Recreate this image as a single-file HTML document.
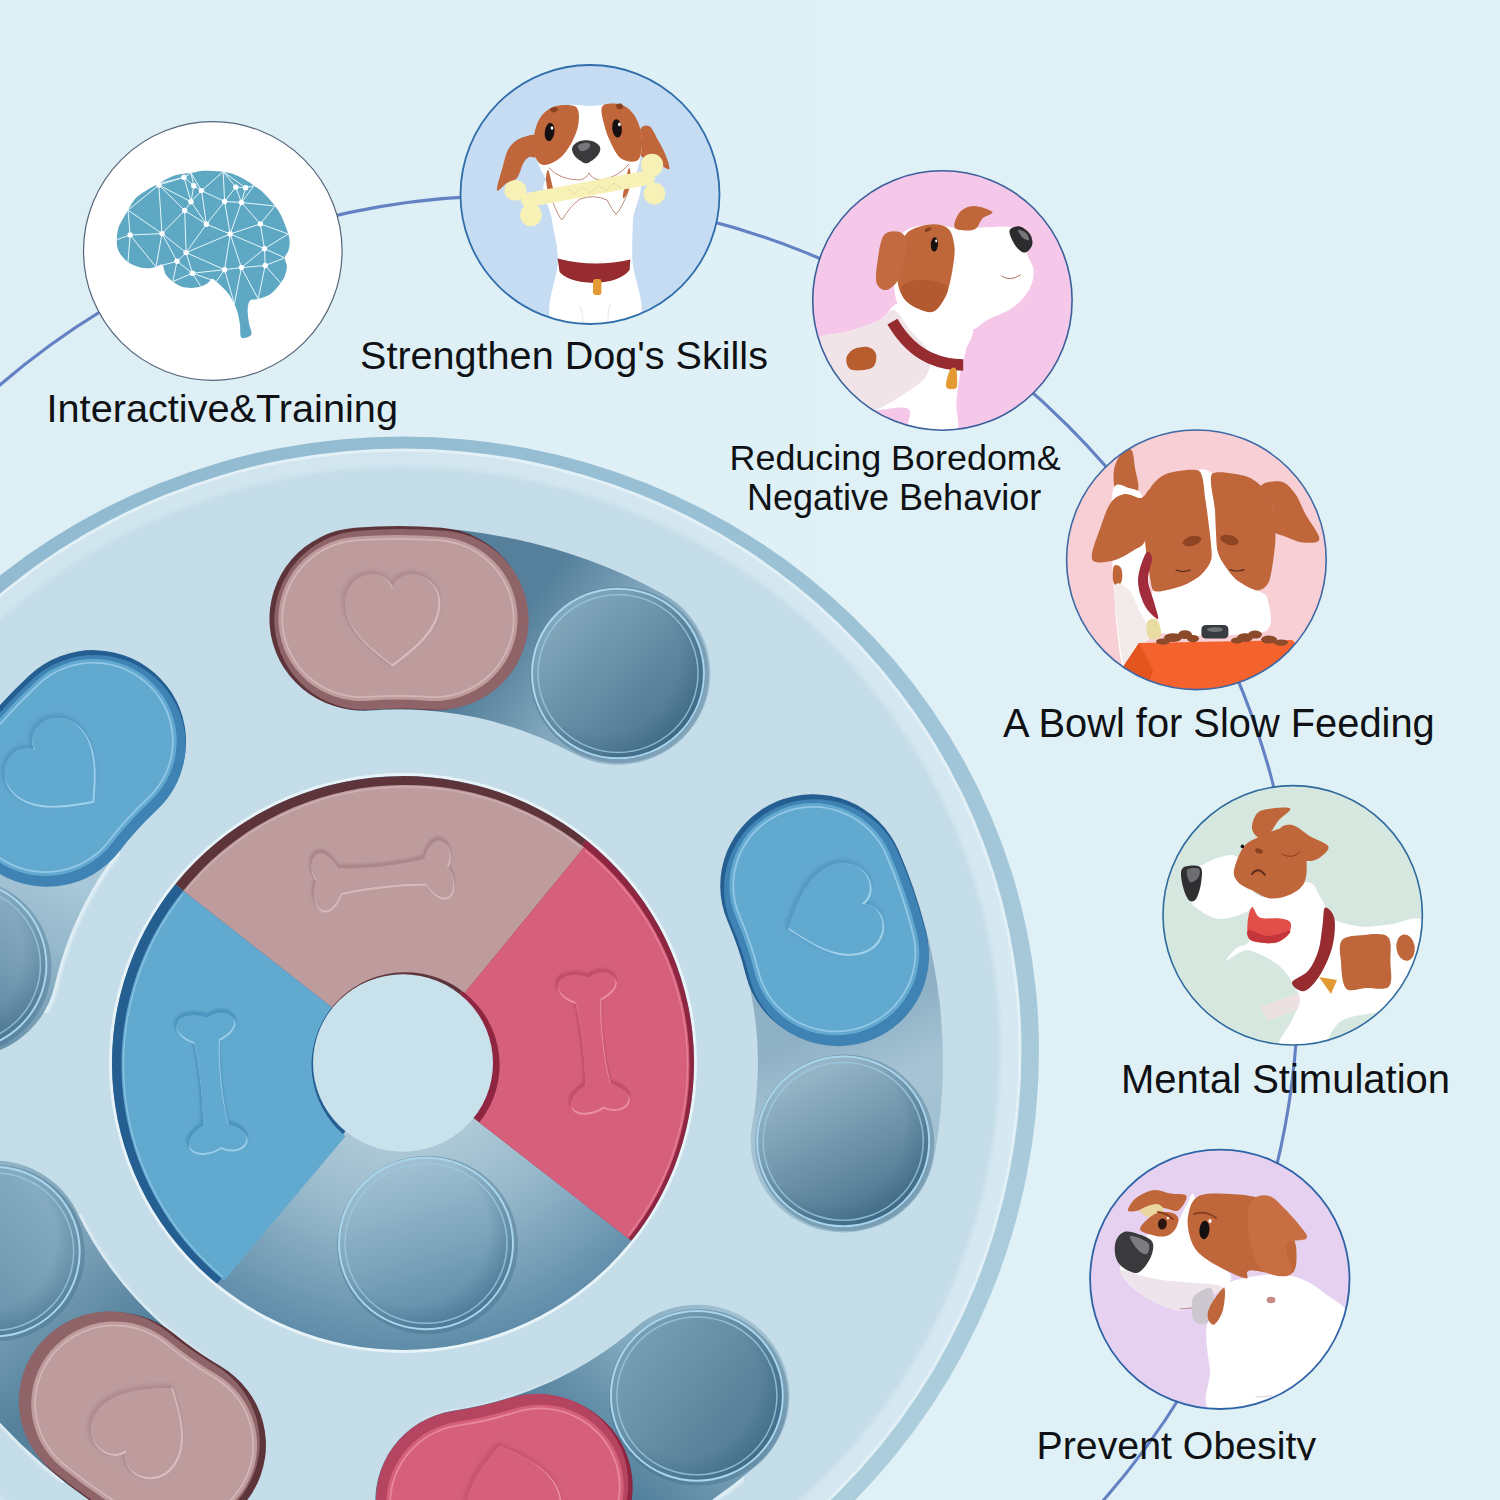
<!DOCTYPE html>
<html lang="en"><head><meta charset="utf-8"><title>Dog puzzle feeder features</title>
<style>html,body{margin:0;padding:0;background:#dff1f6}#stage{position:relative;width:1500px;height:1500px;overflow:hidden}svg{display:block}text{font-family:"Liberation Sans",Arial,Helvetica,sans-serif;fill:#0f1114}</style></head><body><div id="stage">
<svg width="1500" height="1500" viewBox="0 0 1500 1500">
<defs>
<linearGradient id="bgG" x1="0" y1="0" x2="1" y2="0"><stop offset="0" stop-color="#ddeff5"/><stop offset=".6" stop-color="#dff1f6"/><stop offset="1" stop-color="#e0f1f6"/></linearGradient>
<filter id="blur2" x="-5%" y="-5%" width="110%" height="110%"><feGaussianBlur stdDeviation="2"/></filter>
<filter id="blur3" x="-5%" y="-5%" width="110%" height="110%"><feGaussianBlur stdDeviation="3"/></filter>
<filter id="blur1" x="-20%" y="-20%" width="140%" height="140%"><feGaussianBlur stdDeviation="1.2"/></filter>
<linearGradient id="rimDark" x1="0.2" y1="0" x2="0.8" y2="1"><stop offset="0" stop-color="#8fb9d0"/><stop offset=".5" stop-color="#a1c5d8"/><stop offset="1" stop-color="#afcfdd"/></linearGradient>
<linearGradient id="rimLight" x1="0" y1="0" x2="1" y2="0"><stop offset="0" stop-color="#cfe4ee"/><stop offset="1" stop-color="#d6e8f1"/></linearGradient>
<linearGradient id="trough0" gradientUnits="userSpaceOnUse" x1="528" y1="600" x2="700" y2="720"><stop offset="0" stop-color="#557f9b"/><stop offset=".4" stop-color="#7fa5bb"/><stop offset="1" stop-color="#a9c8d8"/></linearGradient>
<linearGradient id="trough1" gradientUnits="userSpaceOnUse" x1="800" y1="1040" x2="880" y2="1230"><stop offset="0" stop-color="#8fb1c5"/><stop offset=".35" stop-color="#a6c4d4"/><stop offset="1" stop-color="#9bbccd"/></linearGradient>
<linearGradient id="trough2" gradientUnits="userSpaceOnUse" x1="620" y1="1490" x2="760" y2="1330"><stop offset="0" stop-color="#52809c"/><stop offset=".5" stop-color="#7fa6bb"/><stop offset="1" stop-color="#a3c3d3"/></linearGradient>
<linearGradient id="trough3" gradientUnits="userSpaceOnUse" x1="130" y1="1340" x2="0" y2="1180"><stop offset="0" stop-color="#55819c"/><stop offset=".5" stop-color="#7aa0b7"/><stop offset="1" stop-color="#8fb2c5"/></linearGradient>
<linearGradient id="trough4" gradientUnits="userSpaceOnUse" x1="70" y1="880" x2="0" y2="1040"><stop offset="0" stop-color="#a8c7d8"/><stop offset=".4" stop-color="#94b7ca"/><stop offset="1" stop-color="#6a93ac"/></linearGradient>
<linearGradient id="cupG0" x1="0.1" y1="0.1" x2="0.9" y2="0.95"><stop offset="0" stop-color="#86abbf"/><stop offset="1" stop-color="#446e8a"/></linearGradient>
<linearGradient id="cupG1" x1="0.25" y1="0.0" x2="0.75" y2="1.0"><stop offset="0" stop-color="#9ebdce"/><stop offset="1" stop-color="#456f8a"/></linearGradient>
<linearGradient id="cupG2" x1="0.0" y1="0.1" x2="1.0" y2="0.9"><stop offset="0" stop-color="#7ca3b8"/><stop offset="1" stop-color="#4a748e"/></linearGradient>
<linearGradient id="cupG3" x1="1.0" y1="0.0" x2="0.0" y2="1.0"><stop offset="0" stop-color="#8fb4c8"/><stop offset="1" stop-color="#5a86a1"/></linearGradient>
<linearGradient id="cupG4" x1="1.0" y1="0.0" x2="0.1" y2="1.0"><stop offset="0" stop-color="#98bace"/><stop offset="1" stop-color="#3f6c8a"/></linearGradient>
<radialGradient id="cupShade" cx=".42" cy=".42" r=".62"><stop offset=".7" stop-color="#2f5a7a" stop-opacity="0"/><stop offset="1" stop-color="#2f5a7a" stop-opacity=".45"/></radialGradient>
<linearGradient id="cupC" x1=".3" y1="0" x2=".6" y2="1"><stop offset="0" stop-color="#a5c4d5"/><stop offset="1" stop-color="#5b8aa7"/></linearGradient>
<radialGradient id="ctrTrough" gradientUnits="userSpaceOnUse" cx="403.0" cy="1023.0" r="330"><stop offset=".3" stop-color="#b4cedb"/><stop offset=".6" stop-color="#98b9cb"/><stop offset="1" stop-color="#5f8ca9"/></radialGradient>
<clipPath id="cc0"><circle cx="212.8" cy="251.0" r="129.3"/></clipPath>
<clipPath id="cc1"><circle cx="590.0" cy="194.5" r="129.5"/></clipPath>
<clipPath id="cc2"><circle cx="942.4" cy="300.5" r="129.7"/></clipPath>
<clipPath id="cc3"><circle cx="1196.4" cy="559.8" r="129.8"/></clipPath>
<clipPath id="cc4"><circle cx="1292.7" cy="915.3" r="129.7"/></clipPath>
<clipPath id="cc5"><circle cx="1219.8" cy="1279.3" r="129.7"/></clipPath>
<clipPath id="obClip"><rect x="1000" y="1400" width="400" height="60.3"/></clipPath>
</defs>
<rect width="1500" height="1500" fill="url(#bgG)"/>
<circle cx="511.84" cy="982.06" r="786.46" fill="none" stroke="#6481c4" stroke-width="3.1"/>
<path d="M-233.0,1050.0A636,613.5 0 0 1 1039.0,1050.0A636,640 0 0 1 -233.0,1050.0Z" fill="url(#rimDark)"/>
<path d="M-215.5,1050.0A618.5,601.5 0 0 1 1021.5,1050.0A618.5,623 0 0 1 -215.5,1050.0Z" fill="#e3f1f7"/>
<path d="M-212.5,1050.0A615.5,598.5 0 0 1 1018.5,1050.0A615.5,620 0 0 1 -212.5,1050.0Z" fill="url(#rimLight)"/>
<path d="M-194.0,1050.0A597,583 0 0 1 1000.0,1050.0A597,602 0 0 1 -194.0,1050.0Z" fill="#c4dde8" filter="url(#blur2)"/>
<g transform="translate(0,14.88) scale(1,0.986)">
<path d="M364.4,613.4A450.0,450.0 0 0 1 618.0,668.0" fill="none" stroke="#dfedf4" stroke-width="190.0" stroke-linecap="round" transform="translate(1,1.5)" filter="url(#blur1)"/>
<path d="M364.4,613.4A450.0,450.0 0 0 1 618.0,668.0" fill="none" stroke="url(#trough0)" stroke-width="185.0" stroke-linecap="round"/>
<path d="M814.4,885.4A450.0,450.0 0 0 1 843.2,1142.5" fill="none" stroke="#dfedf4" stroke-width="190.0" stroke-linecap="round" transform="translate(1,1.5)" filter="url(#blur1)"/>
<path d="M814.4,885.4A450.0,450.0 0 0 1 843.2,1142.5" fill="none" stroke="url(#trough1)" stroke-width="185.0" stroke-linecap="round"/>
<path d="M696.9,1400.6A450.0,450.0 0 0 1 467.8,1506.9" fill="none" stroke="#dfedf4" stroke-width="190.0" stroke-linecap="round" transform="translate(1,1.5)" filter="url(#blur1)"/>
<path d="M696.9,1400.6A450.0,450.0 0 0 1 467.8,1506.9" fill="none" stroke="url(#trough2)" stroke-width="185.0" stroke-linecap="round"/>
<path d="M170.1,1448.5A450.0,450.0 0 0 1 -6.3,1254.3" fill="none" stroke="#dfedf4" stroke-width="190.0" stroke-linecap="round" transform="translate(1,1.5)" filter="url(#blur1)"/>
<path d="M170.1,1448.5A450.0,450.0 0 0 1 -6.3,1254.3" fill="none" stroke="url(#trough3)" stroke-width="185.0" stroke-linecap="round"/>
<path d="M-35.7,964.5A447.0,447.0 0 0 1 92.8,737.8" fill="none" stroke="#dfedf4" stroke-width="190.0" stroke-linecap="round" transform="translate(1,1.5)" filter="url(#blur1)"/>
<path d="M-35.7,964.5A447.0,447.0 0 0 1 92.8,737.8" fill="none" stroke="url(#trough4)" stroke-width="185.0" stroke-linecap="round"/>
</g>
<g transform="translate(0,14.88) scale(1,0.986)">
<circle cx="618.0" cy="668.0" r="89.5" fill="#3d6886" opacity=".35" transform="translate(1.5,1.5)"/><circle cx="618.0" cy="668.0" r="87" fill="url(#cupG0)"/><circle cx="618.0" cy="668.0" r="87" fill="url(#cupShade)"/><circle cx="618.0" cy="668.0" r="86" fill="none" stroke="#a9d6ec" stroke-width="2"/><circle cx="618.0" cy="668.0" r="80" fill="none" stroke="#9cc9e0" stroke-width="1.5" opacity=".8"/>
<circle cx="843.2" cy="1142.5" r="89.5" fill="#3d6886" opacity=".35" transform="translate(1.5,1.5)"/><circle cx="843.2" cy="1142.5" r="87" fill="url(#cupG1)"/><circle cx="843.2" cy="1142.5" r="87" fill="url(#cupShade)"/><circle cx="843.2" cy="1142.5" r="86" fill="none" stroke="#a9d6ec" stroke-width="2"/><circle cx="843.2" cy="1142.5" r="80" fill="none" stroke="#9cc9e0" stroke-width="1.5" opacity=".8"/>
<circle cx="696.9" cy="1400.6" r="89.5" fill="#3d6886" opacity=".35" transform="translate(1.5,1.5)"/><circle cx="696.9" cy="1400.6" r="87" fill="url(#cupG2)"/><circle cx="696.9" cy="1400.6" r="87" fill="url(#cupShade)"/><circle cx="696.9" cy="1400.6" r="86" fill="none" stroke="#a9d6ec" stroke-width="2"/><circle cx="696.9" cy="1400.6" r="80" fill="none" stroke="#9cc9e0" stroke-width="1.5" opacity=".8"/>
<circle cx="-6.3" cy="1254.3" r="89.5" fill="#3d6886" opacity=".35" transform="translate(1.5,1.5)"/><circle cx="-6.3" cy="1254.3" r="87" fill="url(#cupG3)"/><circle cx="-6.3" cy="1254.3" r="87" fill="url(#cupShade)"/><circle cx="-6.3" cy="1254.3" r="86" fill="none" stroke="#a9d6ec" stroke-width="2"/><circle cx="-6.3" cy="1254.3" r="80" fill="none" stroke="#9cc9e0" stroke-width="1.5" opacity=".8"/>
<circle cx="-39.6" cy="963.6" r="89.5" fill="#3d6886" opacity=".35" transform="translate(1.5,1.5)"/><circle cx="-39.6" cy="963.6" r="87" fill="url(#cupG4)"/><circle cx="-39.6" cy="963.6" r="87" fill="url(#cupShade)"/><circle cx="-39.6" cy="963.6" r="86" fill="none" stroke="#a9d6ec" stroke-width="2"/><circle cx="-39.6" cy="963.6" r="80" fill="none" stroke="#9cc9e0" stroke-width="1.5" opacity=".8"/>
<path d="M364.4,613.4A450.0,450.0 0 0 1 436.6,613.4" fill="none" stroke="#5e343b" stroke-width="185.5" stroke-linecap="round" transform="translate(-2.2,-0.9)"/>
<path d="M364.4,613.4A450.0,450.0 0 0 1 436.6,613.4" fill="none" stroke="#8f6468" stroke-width="182.0" stroke-linecap="round" transform="translate(1.0,0.4)"/>
<path d="M364.4,613.4A450.0,450.0 0 0 1 436.6,613.4" fill="none" stroke="#be9c9e" stroke-width="167.0" stroke-linecap="round" transform="translate(-2.5,-1)"/>
<path d="M364.4,613.4A450.0,450.0 0 0 1 436.6,613.4" fill="none" stroke="#d9bcbc" stroke-width="161.0" stroke-linecap="round" transform="translate(-2.5,-1)" opacity=".8"/>
<path d="M364.4,613.4A450.0,450.0 0 0 1 436.6,613.4" fill="none" stroke="#be9c9e" stroke-width="157.5" stroke-linecap="round" transform="translate(-2.5,-1)"/>
<g transform="translate(392.0,614.0)"><g transform="translate(-1.2,-1.6) rotate(360.0) scale(2.0)"><path d="M0,22 C-6,17 -23,6 -23,-9 C-23,-19 -15,-23 -10,-23 C-5,-23 -1,-20 0,-15 C1,-20 5,-23 10,-23 C15,-23 23,-19 23,-9 C23,6 6,17 0,22Z" fill="none" stroke="#a98587" stroke-width="2.4" stroke-linejoin="round" filter="url(#blur1)"/></g><g transform="translate(0.9,1.2) rotate(360.0) scale(2.0)"><path d="M0,22 C-6,17 -23,6 -23,-9 C-23,-19 -15,-23 -10,-23 C-5,-23 -1,-20 0,-15 C1,-20 5,-23 10,-23 C15,-23 23,-19 23,-9 C23,6 6,17 0,22Z" fill="none" stroke="#d9bcbc" stroke-width="1.5" stroke-linejoin="round"/></g><g transform="rotate(360.0) scale(2.0)"><path d="M0,22 C-6,17 -23,6 -23,-9 C-23,-19 -15,-23 -10,-23 C-5,-23 -1,-20 0,-15 C1,-20 5,-23 10,-23 C15,-23 23,-19 23,-9 C23,6 6,17 0,22Z" fill="#be9c9e" stroke="#be9c9e" stroke-width=".6" stroke-linejoin="round"/></g></g>
<path d="M814.4,885.4A450.0,450.0 0 0 1 837.3,953.9" fill="none" stroke="#255f92" stroke-width="185.5" stroke-linecap="round" transform="translate(-1.4,-2.2)"/>
<path d="M814.4,885.4A450.0,450.0 0 0 1 837.3,953.9" fill="none" stroke="#3f82b4" stroke-width="182.0" stroke-linecap="round" transform="translate(0.6,1.0)"/>
<path d="M814.4,885.4A450.0,450.0 0 0 1 837.3,953.9" fill="none" stroke="#62a9d0" stroke-width="167.0" stroke-linecap="round" transform="translate(-1.5,-2.5)"/>
<path d="M814.4,885.4A450.0,450.0 0 0 1 837.3,953.9" fill="none" stroke="#9fd0ea" stroke-width="161.0" stroke-linecap="round" transform="translate(-1.5,-2.5)" opacity=".8"/>
<path d="M814.4,885.4A450.0,450.0 0 0 1 837.3,953.9" fill="none" stroke="#62a9d0" stroke-width="157.5" stroke-linecap="round" transform="translate(-1.5,-2.5)"/>
<g transform="translate(830.7,911.7)"><g transform="translate(-1.2,-1.6) rotate(431.5) scale(2.0)"><path d="M0,22 C-6,17 -23,6 -23,-9 C-23,-19 -15,-23 -10,-23 C-5,-23 -1,-20 0,-15 C1,-20 5,-23 10,-23 C15,-23 23,-19 23,-9 C23,6 6,17 0,22Z" fill="none" stroke="#4b93bf" stroke-width="2.4" stroke-linejoin="round" filter="url(#blur1)"/></g><g transform="translate(0.9,1.2) rotate(431.5) scale(2.0)"><path d="M0,22 C-6,17 -23,6 -23,-9 C-23,-19 -15,-23 -10,-23 C-5,-23 -1,-20 0,-15 C1,-20 5,-23 10,-23 C15,-23 23,-19 23,-9 C23,6 6,17 0,22Z" fill="none" stroke="#9fd0ea" stroke-width="1.5" stroke-linejoin="round"/></g><g transform="rotate(431.5) scale(2.0)"><path d="M0,22 C-6,17 -23,6 -23,-9 C-23,-19 -15,-23 -10,-23 C-5,-23 -1,-20 0,-15 C1,-20 5,-23 10,-23 C15,-23 23,-19 23,-9 C23,6 6,17 0,22Z" fill="#62a9d0" stroke="#62a9d0" stroke-width=".6" stroke-linejoin="round"/></g></g>
<path d="M538.1,1490.5A450.0,450.0 0 0 1 467.8,1506.9" fill="none" stroke="#8e2541" stroke-width="185.5" stroke-linecap="round" transform="translate(1.8,2.2)"/>
<path d="M538.1,1490.5A450.0,450.0 0 0 1 467.8,1506.9" fill="none" stroke="#b54461" stroke-width="182.0" stroke-linecap="round" transform="translate(-0.8,-1.0)"/>
<path d="M538.1,1490.5A450.0,450.0 0 0 1 467.8,1506.9" fill="none" stroke="#d6607c" stroke-width="167.0" stroke-linecap="round" transform="translate(2,2.5)"/>
<path d="M538.1,1490.5A450.0,450.0 0 0 1 467.8,1506.9" fill="none" stroke="#ee93a6" stroke-width="161.0" stroke-linecap="round" transform="translate(2,2.5)" opacity=".8"/>
<path d="M538.1,1490.5A450.0,450.0 0 0 1 467.8,1506.9" fill="none" stroke="#d6607c" stroke-width="157.5" stroke-linecap="round" transform="translate(2,2.5)"/>
<g transform="translate(509.3,1494.6)"><g transform="translate(-1.2,-1.6) rotate(166.8) scale(2.0)"><path d="M0,22 C-6,17 -23,6 -23,-9 C-23,-19 -15,-23 -10,-23 C-5,-23 -1,-20 0,-15 C1,-20 5,-23 10,-23 C15,-23 23,-19 23,-9 C23,6 6,17 0,22Z" fill="none" stroke="#c04d6a" stroke-width="2.4" stroke-linejoin="round" filter="url(#blur1)"/></g><g transform="translate(0.9,1.2) rotate(166.8) scale(2.0)"><path d="M0,22 C-6,17 -23,6 -23,-9 C-23,-19 -15,-23 -10,-23 C-5,-23 -1,-20 0,-15 C1,-20 5,-23 10,-23 C15,-23 23,-19 23,-9 C23,6 6,17 0,22Z" fill="none" stroke="#ee93a6" stroke-width="1.5" stroke-linejoin="round"/></g><g transform="rotate(166.8) scale(2.0)"><path d="M0,22 C-6,17 -23,6 -23,-9 C-23,-19 -15,-23 -10,-23 C-5,-23 -1,-20 0,-15 C1,-20 5,-23 10,-23 C15,-23 23,-19 23,-9 C23,6 6,17 0,22Z" fill="#d6607c" stroke="#d6607c" stroke-width=".6" stroke-linejoin="round"/></g></g>
<path d="M170.1,1448.5A450.0,450.0 0 0 1 111.2,1406.7" fill="none" stroke="#5e343b" stroke-width="185.5" stroke-linecap="round" transform="translate(3.1,1.8)"/>
<path d="M170.1,1448.5A450.0,450.0 0 0 1 111.2,1406.7" fill="none" stroke="#8f6468" stroke-width="182.0" stroke-linecap="round" transform="translate(-1.4,-0.8)"/>
<path d="M170.1,1448.5A450.0,450.0 0 0 1 111.2,1406.7" fill="none" stroke="#be9c9e" stroke-width="167.0" stroke-linecap="round" transform="translate(3.5,2)"/>
<path d="M170.1,1448.5A450.0,450.0 0 0 1 111.2,1406.7" fill="none" stroke="#d9bcbc" stroke-width="161.0" stroke-linecap="round" transform="translate(3.5,2)" opacity=".8"/>
<path d="M170.1,1448.5A450.0,450.0 0 0 1 111.2,1406.7" fill="none" stroke="#be9c9e" stroke-width="157.5" stroke-linecap="round" transform="translate(3.5,2)"/>
<g transform="translate(145.3,1428.8)"><g transform="translate(-1.2,-1.6) rotate(215.4) scale(2.0)"><path d="M0,22 C-6,17 -23,6 -23,-9 C-23,-19 -15,-23 -10,-23 C-5,-23 -1,-20 0,-15 C1,-20 5,-23 10,-23 C15,-23 23,-19 23,-9 C23,6 6,17 0,22Z" fill="none" stroke="#a98587" stroke-width="2.4" stroke-linejoin="round" filter="url(#blur1)"/></g><g transform="translate(0.9,1.2) rotate(215.4) scale(2.0)"><path d="M0,22 C-6,17 -23,6 -23,-9 C-23,-19 -15,-23 -10,-23 C-5,-23 -1,-20 0,-15 C1,-20 5,-23 10,-23 C15,-23 23,-19 23,-9 C23,6 6,17 0,22Z" fill="none" stroke="#d9bcbc" stroke-width="1.5" stroke-linejoin="round"/></g><g transform="rotate(215.4) scale(2.0)"><path d="M0,22 C-6,17 -23,6 -23,-9 C-23,-19 -15,-23 -10,-23 C-5,-23 -1,-20 0,-15 C1,-20 5,-23 10,-23 C15,-23 23,-19 23,-9 C23,6 6,17 0,22Z" fill="#be9c9e" stroke="#be9c9e" stroke-width=".6" stroke-linejoin="round"/></g></g>
<path d="M46.5,792.3A445.0,445.0 0 0 1 94.2,739.2" fill="none" stroke="#255f92" stroke-width="185.5" stroke-linecap="round" transform="translate(-0.9,-2.2)"/>
<path d="M46.5,792.3A445.0,445.0 0 0 1 94.2,739.2" fill="none" stroke="#3f82b4" stroke-width="182.0" stroke-linecap="round" transform="translate(0.4,1.0)"/>
<path d="M46.5,792.3A445.0,445.0 0 0 1 94.2,739.2" fill="none" stroke="#62a9d0" stroke-width="167.0" stroke-linecap="round" transform="translate(-1,-2.5)"/>
<path d="M46.5,792.3A445.0,445.0 0 0 1 94.2,739.2" fill="none" stroke="#9fd0ea" stroke-width="161.0" stroke-linecap="round" transform="translate(-1,-2.5)" opacity=".8"/>
<path d="M46.5,792.3A445.0,445.0 0 0 1 94.2,739.2" fill="none" stroke="#62a9d0" stroke-width="157.5" stroke-linecap="round" transform="translate(-1,-2.5)"/>
<g transform="translate(59.3,767.3)"><g transform="translate(-1.2,-1.6) rotate(311.9) scale(2.0)"><path d="M0,22 C-6,17 -23,6 -23,-9 C-23,-19 -15,-23 -10,-23 C-5,-23 -1,-20 0,-15 C1,-20 5,-23 10,-23 C15,-23 23,-19 23,-9 C23,6 6,17 0,22Z" fill="none" stroke="#4b93bf" stroke-width="2.4" stroke-linejoin="round" filter="url(#blur1)"/></g><g transform="translate(0.9,1.2) rotate(311.9) scale(2.0)"><path d="M0,22 C-6,17 -23,6 -23,-9 C-23,-19 -15,-23 -10,-23 C-5,-23 -1,-20 0,-15 C1,-20 5,-23 10,-23 C15,-23 23,-19 23,-9 C23,6 6,17 0,22Z" fill="none" stroke="#9fd0ea" stroke-width="1.5" stroke-linejoin="round"/></g><g transform="rotate(311.9) scale(2.0)"><path d="M0,22 C-6,17 -23,6 -23,-9 C-23,-19 -15,-23 -10,-23 C-5,-23 -1,-20 0,-15 C1,-20 5,-23 10,-23 C15,-23 23,-19 23,-9 C23,6 6,17 0,22Z" fill="#62a9d0" stroke="#62a9d0" stroke-width=".6" stroke-linejoin="round"/></g></g>
<circle cx="403.0" cy="1063.0" r="294.0" fill="#e8f3f8"/>
<circle cx="403.0" cy="1063.0" r="291.0" fill="url(#ctrTrough)"/>
<circle cx="426.0" cy="1246.0" r="90.5" fill="#3d6886" opacity=".35" transform="translate(1.5,1.5)"/><circle cx="426.0" cy="1246.0" r="88" fill="url(#cupC)"/><circle cx="426.0" cy="1246.0" r="88" fill="url(#cupShade)"/><circle cx="426.0" cy="1246.0" r="87" fill="none" stroke="#a9d6ec" stroke-width="2"/><circle cx="426.0" cy="1246.0" r="81" fill="none" stroke="#9cc9e0" stroke-width="1.5" opacity=".8"/>
<path d="M217.1,1286.9A291.0,291.0 0 0 1 175.3,881.8L334.9,1008.8A87.0,87.0 0 0 0 347.4,1129.9Z" fill="#255f92"/>
<path d="M175.3,881.8A291.0,291.0 0 0 1 586.1,836.9L457.8,995.4A87.0,87.0 0 0 0 334.9,1008.8Z" fill="#5e343b"/>
<path d="M586.1,836.9A291.0,291.0 0 0 1 631.4,1243.4L471.3,1116.9A87.0,87.0 0 0 0 457.8,995.4Z" fill="#8e2541"/>
<path d="M221.6,1281.5A284.0,284.0 0 0 1 180.7,886.2L329.4,1004.5A94.0,94.0 0 0 0 343.0,1135.3Z" fill="#62a9d0" transform="translate(2.5,2)"/>
<path d="M220.6,1278.1A282.0,282.0 0 0 1 180.5,889.8" fill="none" stroke="#9fd0ea" stroke-width="1.2" opacity=".7" transform="translate(2.5,2)"/>
<path d="M180.7,886.2A284.0,284.0 0 0 1 581.7,842.3L462.2,989.9A94.0,94.0 0 0 0 329.4,1004.5Z" fill="#be9c9e" transform="translate(2.5,2)"/>
<path d="M184.2,885.1A282.0,282.0 0 0 1 578.2,842.0" fill="none" stroke="#d9bcbc" stroke-width="1.2" opacity=".7" transform="translate(2.5,2)"/>
<path d="M581.7,842.3A284.0,284.0 0 0 1 625.9,1239.0L476.8,1121.3A94.0,94.0 0 0 0 462.2,989.9Z" fill="#d6607c" transform="translate(2.5,2)"/>
<path d="M582.8,845.7A282.0,282.0 0 0 1 626.1,1235.5" fill="none" stroke="#ee93a6" stroke-width="1.2" opacity=".7" transform="translate(2.5,2)"/>
<g transform="translate(212.0,1082.7)"><g transform="translate(-0.5,-2.2) rotate(84.10000000000002)"><path d="M-44,-11 C-48,-22 -56,-31 -63,-27 C-71,-22 -70,-9 -65,-2 C-70,6 -72,22 -64,28 C-56,32 -48,23 -43,13 C-20,10 20,10 43,13 C48,23 56,32 64,28 C72,22 70,6 65,-2 C70,-9 71,-22 63,-27 C56,-31 48,-22 44,-11 C20,-7 -20,-7 -44,-11Z" fill="none" stroke="#4b93bf" stroke-width="5" stroke-linejoin="round" filter="url(#blur1)"/></g><g transform="translate(0.6,1.8) rotate(84.10000000000002)"><path d="M-44,-11 C-48,-22 -56,-31 -63,-27 C-71,-22 -70,-9 -65,-2 C-70,6 -72,22 -64,28 C-56,32 -48,23 -43,13 C-20,10 20,10 43,13 C48,23 56,32 64,28 C72,22 70,6 65,-2 C70,-9 71,-22 63,-27 C56,-31 48,-22 44,-11 C20,-7 -20,-7 -44,-11Z" fill="none" stroke="#9fd0ea" stroke-width="2.2" stroke-linejoin="round" opacity=".9"/></g><g transform="rotate(84.10000000000002)"><path d="M-44,-11 C-48,-22 -56,-31 -63,-27 C-71,-22 -70,-9 -65,-2 C-70,6 -72,22 -64,28 C-56,32 -48,23 -43,13 C-20,10 20,10 43,13 C48,23 56,32 64,28 C72,22 70,6 65,-2 C70,-9 71,-22 63,-27 C56,-31 48,-22 44,-11 C20,-7 -20,-7 -44,-11Z" fill="#62a9d0" stroke="#62a9d0" stroke-width="1" stroke-linejoin="round"/></g></g>
<g transform="translate(382.1,872.1)"><g transform="translate(-0.5,-2.2) rotate(-6.25)"><path d="M-44,-11 C-48,-22 -56,-31 -63,-27 C-71,-22 -70,-9 -65,-2 C-70,6 -72,22 -64,28 C-56,32 -48,23 -43,13 C-20,10 20,10 43,13 C48,23 56,32 64,28 C72,22 70,6 65,-2 C70,-9 71,-22 63,-27 C56,-31 48,-22 44,-11 C20,-7 -20,-7 -44,-11Z" fill="none" stroke="#a98587" stroke-width="5" stroke-linejoin="round" filter="url(#blur1)"/></g><g transform="translate(0.6,1.8) rotate(-6.25)"><path d="M-44,-11 C-48,-22 -56,-31 -63,-27 C-71,-22 -70,-9 -65,-2 C-70,6 -72,22 -64,28 C-56,32 -48,23 -43,13 C-20,10 20,10 43,13 C48,23 56,32 64,28 C72,22 70,6 65,-2 C70,-9 71,-22 63,-27 C56,-31 48,-22 44,-11 C20,-7 -20,-7 -44,-11Z" fill="none" stroke="#d9bcbc" stroke-width="2.2" stroke-linejoin="round" opacity=".9"/></g><g transform="rotate(-6.25)"><path d="M-44,-11 C-48,-22 -56,-31 -63,-27 C-71,-22 -70,-9 -65,-2 C-70,6 -72,22 -64,28 C-56,32 -48,23 -43,13 C-20,10 20,10 43,13 C48,23 56,32 64,28 C72,22 70,6 65,-2 C70,-9 71,-22 63,-27 C56,-31 48,-22 44,-11 C20,-7 -20,-7 -44,-11Z" fill="#be9c9e" stroke="#be9c9e" stroke-width="1" stroke-linejoin="round"/></g></g>
<g transform="translate(593.8,1041.8)"><g transform="translate(-0.5,-2.2) rotate(83.64999999999998)"><path d="M-44,-11 C-48,-22 -56,-31 -63,-27 C-71,-22 -70,-9 -65,-2 C-70,6 -72,22 -64,28 C-56,32 -48,23 -43,13 C-20,10 20,10 43,13 C48,23 56,32 64,28 C72,22 70,6 65,-2 C70,-9 71,-22 63,-27 C56,-31 48,-22 44,-11 C20,-7 -20,-7 -44,-11Z" fill="none" stroke="#c04d6a" stroke-width="5" stroke-linejoin="round" filter="url(#blur1)"/></g><g transform="translate(0.6,1.8) rotate(83.64999999999998)"><path d="M-44,-11 C-48,-22 -56,-31 -63,-27 C-71,-22 -70,-9 -65,-2 C-70,6 -72,22 -64,28 C-56,32 -48,23 -43,13 C-20,10 20,10 43,13 C48,23 56,32 64,28 C72,22 70,6 65,-2 C70,-9 71,-22 63,-27 C56,-31 48,-22 44,-11 C20,-7 -20,-7 -44,-11Z" fill="none" stroke="#ee93a6" stroke-width="2.2" stroke-linejoin="round" opacity=".9"/></g><g transform="rotate(83.64999999999998)"><path d="M-44,-11 C-48,-22 -56,-31 -63,-27 C-71,-22 -70,-9 -65,-2 C-70,6 -72,22 -64,28 C-56,32 -48,23 -43,13 C-20,10 20,10 43,13 C48,23 56,32 64,28 C72,22 70,6 65,-2 C70,-9 71,-22 63,-27 C56,-31 48,-22 44,-11 C20,-7 -20,-7 -44,-11Z" fill="#d6607c" stroke="#d6607c" stroke-width="1" stroke-linejoin="round"/></g></g>
<circle cx="403.0" cy="1063.0" r="90.0" fill="#c9e1eb"/>
</g>
<circle cx="212.8" cy="251.0" r="129.3" fill="#ffffff"/>
<g clip-path="url(#cc0)">
<clipPath id="brainClip"><path d="M116.8,239.6C116.9,236.3 117.2,231.9 118.2,228.4C119.2,224.9 121.5,221.6 123.1,218.6C124.7,215.6 126.0,213.5 128.0,210.2C130.0,206.9 132.0,202.3 135.0,199.0C138.0,195.7 142.2,193.2 146.2,190.6C150.2,188.0 155.3,185.6 158.8,183.6C162.3,181.6 163.9,180.2 167.2,178.7C170.5,177.2 174.4,175.4 178.4,174.5C182.4,173.6 187.3,173.7 191.0,173.1C194.7,172.5 197.3,171.3 200.8,171.0C204.3,170.7 208.3,170.9 212.0,171.0C215.7,171.1 219.5,171.1 223.2,171.7C226.9,172.3 230.7,173.1 234.4,174.5C238.1,175.9 242.3,178.2 245.6,180.1C248.9,182.0 251.4,183.9 254.0,185.7C256.6,187.4 258.7,188.6 261.0,190.6C263.3,192.6 265.7,195.0 268.0,197.6C270.3,200.2 272.9,203.2 275.0,206.0C277.1,208.8 279.0,211.4 280.6,214.4C282.2,217.4 283.5,220.9 284.8,224.2C286.1,227.5 287.5,231.0 288.3,234.0C289.1,237.0 289.7,239.6 289.7,242.4C289.7,245.2 289.1,248.2 288.3,250.8C287.5,253.4 285.0,255.2 284.8,257.8C284.6,260.4 286.9,263.2 286.9,266.2C286.9,269.2 285.8,273.2 284.8,276.0C283.7,278.8 282.2,280.7 280.6,283.0C279.0,285.3 277.1,287.9 275.0,290.0C272.9,292.1 270.8,294.1 268.0,295.6C265.2,297.1 261.0,298.4 258.2,299.1C255.4,299.8 252.8,299.0 251.2,299.8C249.6,300.6 249.0,301.9 248.4,304.0C247.8,306.1 247.6,309.1 247.7,312.4C247.8,315.7 248.5,319.9 249.1,323.6C249.7,327.3 252.5,332.5 251.2,334.8C249.9,337.1 243.3,339.2 241.4,337.6C239.5,336.0 240.6,329.0 240.0,325.0C239.4,321.0 238.8,317.3 237.9,313.8C237.0,310.3 235.9,307.3 234.4,304.0C232.9,300.7 230.7,296.9 228.8,294.2C226.9,291.5 225.3,290.0 223.2,287.9C221.1,285.8 218.1,283.1 216.2,281.6C214.3,280.1 213.4,278.6 212.0,278.8C210.6,279.0 209.7,281.7 207.8,283.0C205.9,284.3 203.6,285.7 200.8,286.5C198.0,287.3 194.3,287.9 191.0,287.9C187.7,287.9 184.2,287.6 181.2,286.5C178.2,285.4 175.4,283.6 172.8,281.6C170.2,279.6 167.6,277.4 165.8,274.6C164.1,271.8 163.9,266.1 162.3,264.8C160.7,263.5 158.7,266.3 156.0,266.9C153.3,267.5 149.5,268.4 146.2,268.3C142.9,268.2 139.4,267.2 136.4,266.2C133.4,265.1 130.6,263.9 128.0,262.0C125.4,260.1 122.8,257.3 121.0,255.0C119.2,252.7 118.2,250.6 117.5,248.0C116.8,245.4 116.7,242.9 116.8,239.6Z"/></clipPath>
<path d="M116.8,239.6C116.9,236.3 117.2,231.9 118.2,228.4C119.2,224.9 121.5,221.6 123.1,218.6C124.7,215.6 126.0,213.5 128.0,210.2C130.0,206.9 132.0,202.3 135.0,199.0C138.0,195.7 142.2,193.2 146.2,190.6C150.2,188.0 155.3,185.6 158.8,183.6C162.3,181.6 163.9,180.2 167.2,178.7C170.5,177.2 174.4,175.4 178.4,174.5C182.4,173.6 187.3,173.7 191.0,173.1C194.7,172.5 197.3,171.3 200.8,171.0C204.3,170.7 208.3,170.9 212.0,171.0C215.7,171.1 219.5,171.1 223.2,171.7C226.9,172.3 230.7,173.1 234.4,174.5C238.1,175.9 242.3,178.2 245.6,180.1C248.9,182.0 251.4,183.9 254.0,185.7C256.6,187.4 258.7,188.6 261.0,190.6C263.3,192.6 265.7,195.0 268.0,197.6C270.3,200.2 272.9,203.2 275.0,206.0C277.1,208.8 279.0,211.4 280.6,214.4C282.2,217.4 283.5,220.9 284.8,224.2C286.1,227.5 287.5,231.0 288.3,234.0C289.1,237.0 289.7,239.6 289.7,242.4C289.7,245.2 289.1,248.2 288.3,250.8C287.5,253.4 285.0,255.2 284.8,257.8C284.6,260.4 286.9,263.2 286.9,266.2C286.9,269.2 285.8,273.2 284.8,276.0C283.7,278.8 282.2,280.7 280.6,283.0C279.0,285.3 277.1,287.9 275.0,290.0C272.9,292.1 270.8,294.1 268.0,295.6C265.2,297.1 261.0,298.4 258.2,299.1C255.4,299.8 252.8,299.0 251.2,299.8C249.6,300.6 249.0,301.9 248.4,304.0C247.8,306.1 247.6,309.1 247.7,312.4C247.8,315.7 248.5,319.9 249.1,323.6C249.7,327.3 252.5,332.5 251.2,334.8C249.9,337.1 243.3,339.2 241.4,337.6C239.5,336.0 240.6,329.0 240.0,325.0C239.4,321.0 238.8,317.3 237.9,313.8C237.0,310.3 235.9,307.3 234.4,304.0C232.9,300.7 230.7,296.9 228.8,294.2C226.9,291.5 225.3,290.0 223.2,287.9C221.1,285.8 218.1,283.1 216.2,281.6C214.3,280.1 213.4,278.6 212.0,278.8C210.6,279.0 209.7,281.7 207.8,283.0C205.9,284.3 203.6,285.7 200.8,286.5C198.0,287.3 194.3,287.9 191.0,287.9C187.7,287.9 184.2,287.6 181.2,286.5C178.2,285.4 175.4,283.6 172.8,281.6C170.2,279.6 167.6,277.4 165.8,274.6C164.1,271.8 163.9,266.1 162.3,264.8C160.7,263.5 158.7,266.3 156.0,266.9C153.3,267.5 149.5,268.4 146.2,268.3C142.9,268.2 139.4,267.2 136.4,266.2C133.4,265.1 130.6,263.9 128.0,262.0C125.4,260.1 122.8,257.3 121.0,255.0C119.2,252.7 118.2,250.6 117.5,248.0C116.8,245.4 116.7,242.9 116.8,239.6Z" fill="#5fa8c4"/>
<g clip-path="url(#brainClip)"><path d="M186.1,252.6L192.4,273.2M264.5,248.7L288.3,234.0M224.6,201.5L223.2,171.7M177.0,261.3L192.4,273.2M192.4,273.2L200.8,286.5M260.3,223.9L230.2,234.0M162.0,233.6L177.0,261.3M224.6,201.5L206.4,224.2M158.8,185.0L158.8,183.6M265.2,265.5L241.4,267.6M201.5,190.6L191.0,201.8M230.2,234.0L186.1,252.6M241.4,202.5L260.3,223.9M184.7,210.5L206.4,224.2M260.3,223.9L264.5,248.7M241.4,267.6L258.2,299.1M193.8,185.7L191.0,173.1M265.2,265.5L284.8,257.8M201.5,190.6L223.2,171.7M224.6,201.5L230.2,234.0M130.1,235.0L162.0,233.6M201.5,190.6L206.4,224.2M130.1,235.0L116.8,239.6M184.0,177.3L193.8,185.7M230.2,234.0L241.4,267.6M224.6,269.7L234.4,304.0M130.1,235.0L128.0,262.0M206.4,224.2L186.1,252.6M241.4,202.5L254.0,185.7M162.0,233.6L128.0,210.2M177.0,261.3L156.0,266.9M264.5,248.7L241.4,267.6M192.4,273.2L216.2,281.6M241.4,267.6L224.6,269.7M158.8,185.0L128.0,210.2M184.0,177.3L191.0,173.1M264.5,248.7L284.8,257.8M224.6,269.7L192.4,273.2M192.4,273.2L172.8,281.6M193.8,185.7L191.0,201.8M201.5,190.6L224.6,201.5M162.0,233.6L156.0,266.9M230.2,234.0L264.5,248.7M265.2,265.5L258.2,299.1M201.5,190.6L191.0,173.1M158.8,185.0L184.7,210.5M260.3,223.9L288.3,234.0M186.1,252.6L224.6,269.7M235.8,187.1L241.4,202.5M235.8,187.1L223.2,171.7M206.4,224.2L230.2,234.0M245.6,187.8L254.0,185.7M177.0,261.3L172.8,281.6M241.4,267.6L234.4,304.0M191.0,201.8L206.4,224.2M130.1,235.0L128.0,210.2M184.0,177.3L191.0,201.8M193.8,185.7L201.5,190.6M158.8,185.0L162.0,233.6M241.4,202.5L275.0,206.0M184.0,177.3L158.8,183.6M158.8,185.0L191.0,201.8M186.1,252.6L177.0,261.3M235.8,187.1L245.6,187.8M265.2,265.5L280.6,283.0M184.0,177.3L158.8,185.0M241.4,202.5L230.2,234.0M184.7,210.5L162.0,233.6M130.1,235.0L156.0,266.9M260.3,223.9L275.0,206.0M264.5,248.7L265.2,265.5M235.8,187.1L224.6,201.5M245.6,187.8L241.4,202.5M230.2,234.0L224.6,269.7M224.6,269.7L216.2,281.6M184.7,210.5L186.1,252.6M245.6,187.8L223.2,171.7M162.0,233.6L186.1,252.6M191.0,201.8L184.7,210.5M224.6,201.5L241.4,202.5" stroke="#e4f6fa" stroke-width="1" fill="none"/></g>
<circle cx="184.0" cy="177.3" r="2.7" fill="#fff"/>
<circle cx="158.8" cy="185.0" r="2.7" fill="#fff"/>
<circle cx="193.8" cy="185.7" r="2.7" fill="#fff"/>
<circle cx="201.5" cy="190.6" r="2.7" fill="#fff"/>
<circle cx="235.8" cy="187.1" r="2.7" fill="#fff"/>
<circle cx="245.6" cy="187.8" r="2.7" fill="#fff"/>
<circle cx="191.0" cy="201.8" r="2.7" fill="#fff"/>
<circle cx="224.6" cy="201.5" r="2.7" fill="#fff"/>
<circle cx="241.4" cy="202.5" r="2.7" fill="#fff"/>
<circle cx="184.7" cy="210.5" r="2.7" fill="#fff"/>
<circle cx="206.4" cy="224.2" r="2.7" fill="#fff"/>
<circle cx="260.3" cy="223.9" r="2.7" fill="#fff"/>
<circle cx="130.1" cy="235.0" r="2.7" fill="#fff"/>
<circle cx="162.0" cy="233.6" r="2.7" fill="#fff"/>
<circle cx="230.2" cy="234.0" r="2.7" fill="#fff"/>
<circle cx="186.1" cy="252.6" r="2.7" fill="#fff"/>
<circle cx="264.5" cy="248.7" r="2.7" fill="#fff"/>
<circle cx="177.0" cy="261.3" r="2.7" fill="#fff"/>
<circle cx="265.2" cy="265.5" r="2.7" fill="#fff"/>
<circle cx="241.4" cy="267.6" r="2.7" fill="#fff"/>
<circle cx="224.6" cy="269.7" r="2.7" fill="#fff"/>
<circle cx="192.4" cy="273.2" r="2.7" fill="#fff"/>
</g>
<circle cx="212.8" cy="251.0" r="129.3" fill="none" stroke="#55657a" stroke-width="1.2"/>
<circle cx="590.0" cy="194.5" r="129.5" fill="#c6dcf3"/>
<g clip-path="url(#cc1)">
<g transform="translate(440,40) scale(.2)"><path d="M545,690C476,725 552,832 560,900C568,968 588,1013 590,1100C592,1187 504,1367 570,1420C636,1473 920,1473 985,1420C1050,1367 965,1187 962,1100C959,1013 963,968 965,900C967,832 1045,725 975,690C905,655 614,655 545,690Z" fill="#ffffff" /><path d="M490,480C477,465 434,478 410,488C386,498 361,515 345,540C329,565 322,605 312,640C302,675 281,740 285,752C289,764 318,725 335,715C352,705 372,706 385,690C398,674 405,638 415,620C425,602 432,592 445,585C458,578 482,598 490,580C498,562 503,495 490,480Z" fill="#bf663a" /><path d="M1000,450C1008,427 1033,424 1048,432C1063,440 1076,475 1090,500C1104,525 1121,556 1130,580C1139,604 1151,638 1146,645C1141,652 1116,630 1100,622C1084,614 1067,609 1050,600C1033,591 1008,595 1000,570C992,545 992,473 1000,450Z" fill="#bf663a" /><path d="M560,345C586,329 618,328 650,325C682,322 717,330 750,330C783,330 819,321 850,322C881,323 912,322 935,338C958,354 978,390 990,420C1002,450 1010,483 1010,520C1010,557 1000,607 990,640C980,673 970,695 950,720C930,745 903,775 870,790C837,805 790,808 750,810C710,812 662,813 630,800C598,787 577,757 555,730C533,703 514,672 500,640C486,608 473,577 472,540C471,503 480,452 495,420C510,388 534,361 560,345Z" fill="#ffffff" /><path d="M555,340C575,329 598,325 620,325C642,325 673,324 685,340C697,356 696,392 692,420C688,448 675,482 660,510C645,538 623,571 600,590C577,609 540,626 520,625C500,624 486,609 478,585C470,561 466,512 470,480C474,448 486,413 500,390C514,367 535,351 555,340Z" fill="#bf663a" /><path d="M810,335C818,318 849,318 870,318C891,318 916,324 935,338C954,352 972,373 985,400C998,427 1009,467 1010,500C1011,533 1008,585 990,600C972,615 928,608 905,592C882,576 864,534 850,505C836,476 827,448 820,420C813,392 802,352 810,335Z" fill="#bf663a" /><path d="M550,345C552,340 568,334 575,335C582,336 592,346 590,350C588,354 572,363 565,362C558,361 548,350 550,345Z" fill="#8a3f1e" /><path d="M880,325C882,320 899,316 905,318C911,320 918,336 915,340C912,344 896,348 890,345C884,342 878,330 880,325Z" fill="#8a3f1e" /><ellipse cx="548" cy="460" rx="24" ry="46" fill="#161012" transform="rotate(8 548 460)"/><ellipse cx="560" cy="440" rx="7" ry="9" fill="#fff"/><ellipse cx="885" cy="442" rx="24" ry="46" fill="#161012" transform="rotate(-6 885 442)"/><ellipse cx="897" cy="422" rx="7" ry="9" fill="#fff"/><path d="M662,535C667,523 684,510 700,505C716,500 743,500 760,505C777,510 795,523 800,535C805,547 799,562 790,575C781,588 758,606 745,612C732,618 727,618 715,612C703,606 681,591 672,578C663,565 657,547 662,535Z" fill="#3a3a3d" /><path d="M690,530C692,523 710,517 720,515C730,513 747,515 750,520C753,525 748,539 740,545C732,551 713,558 705,555C697,552 688,537 690,530Z" fill="#77777a" /><path d="M545,640Q600,700 700,700Q735,690 745,665Q760,695 800,700Q890,690 945,620" fill="none" stroke="#b07058" stroke-width="4" stroke-linecap="round" stroke-linejoin="round"/><path d="M560,800Q590,880 610,900Q650,830 700,795Q770,770 835,800Q860,850 880,872Q910,840 940,760" fill="none" stroke="#b07058" stroke-width="4" stroke-linecap="round" stroke-linejoin="round"/><path d="M540,650C545,653 554,695 560,720C566,745 578,792 575,800C572,808 552,787 545,770C538,753 531,720 530,700C529,680 535,647 540,650Z" fill="#bf663a" /><path d="M945,640C940,643 930,695 925,720C920,745 912,783 915,790C918,797 933,775 940,760C947,745 954,720 955,700C956,680 950,637 945,640Z" fill="#bf663a" /><path d="M440,800L1040,688" fill="none" stroke="#f8f1b6" stroke-width="72" stroke-linecap="round"/><ellipse cx="377" cy="752" rx="55" ry="52" fill="#f8f1b6"/><ellipse cx="455" cy="875" rx="54" ry="56" fill="#f8f1b6"/><ellipse cx="1060" cy="625" rx="56" ry="56" fill="#f8f1b6"/><ellipse cx="1072" cy="768" rx="54" ry="54" fill="#f8f1b6"/><path d="M640,745L675,770L712,735L750,765L790,725L830,755L870,715L905,740" fill="none" stroke="#e3dfa6" stroke-width="5" stroke-linecap="round" stroke-linejoin="round"/><path d="M588,1093Q770,1140 952,1098L948,1150Q900,1210 770,1215Q640,1210 598,1160Z" fill="#962b30"/><rect x="765" y="1195" width="42" height="80" rx="12" fill="#e39a33"/><path d="M700,1330Q720,1380 715,1420M850,1320Q835,1380 840,1420" fill="none" stroke="#ece6e8" stroke-width="5" stroke-linecap="round" stroke-linejoin="round"/></g>
</g>
<circle cx="590.0" cy="194.5" r="129.5" fill="none" stroke="#2f6eab" stroke-width="1.8"/>
<circle cx="942.4" cy="300.5" r="129.7" fill="#f5c8ea"/>
<g clip-path="url(#cc2)">
<g transform="translate(790,150) scale(.2)"><path d="M120,960C145,914 245,923 300,905C355,887 409,873 450,850C491,827 503,773 545,765C587,757 640,781 700,800C760,819 875,847 905,880C935,913 889,960 880,1000C871,1040 858,1077 850,1120C842,1163 837,1210 832,1260C827,1310 861,1393 822,1420C783,1447 638,1441 600,1420C562,1399 622,1315 592,1295C562,1275 472,1304 420,1300C368,1296 325,1290 280,1270C235,1250 177,1232 150,1180C123,1128 95,1006 120,960Z" fill="#ffffff" /><path d="M120,960C145,914 245,923 300,905C355,887 413,868 450,850C487,832 495,792 520,800C545,808 570,863 600,900C630,937 687,982 700,1020C713,1058 697,1100 680,1130C663,1160 643,1172 600,1200C557,1228 473,1288 420,1300C367,1312 325,1290 280,1270C235,1250 177,1232 150,1180C123,1128 95,1006 120,960Z" fill="#f0e4e8" /><path d="M282,1040C285,1023 302,1004 320,995C338,986 372,981 390,985C408,989 425,1004 430,1020C435,1036 430,1067 420,1080C410,1093 390,1098 370,1100C350,1102 315,1105 300,1095C285,1085 279,1057 282,1040Z" fill="#b85d2e" /><path d="M560,420C590,382 652,377 700,372C748,367 800,390 850,392C900,394 958,386 1000,385C1042,384 1069,379 1100,385C1131,391 1166,406 1185,420C1204,434 1212,454 1212,470C1212,486 1184,493 1185,515C1186,537 1216,569 1218,600C1220,631 1213,668 1195,700C1177,732 1145,765 1110,790C1075,815 1019,832 985,850C951,868 942,895 905,900C868,905 811,892 760,880C709,868 638,850 600,830C562,810 548,798 535,760C522,722 516,657 520,600C524,543 530,458 560,420Z" fill="#ffffff" /><path d="M822,385C818,370 832,330 848,312C864,294 893,280 920,280C947,280 1005,300 1012,310C1019,320 976,328 962,342C948,356 945,382 930,392C915,402 890,403 872,402C854,401 826,400 822,385Z" fill="#bf663a" /><path d="M590,410C614,389 667,375 700,372C733,369 770,374 790,392C810,410 818,445 822,480C826,515 819,560 812,600C805,640 797,686 782,720C767,754 746,793 722,805C698,817 665,802 640,792C615,782 587,766 570,742C553,718 540,690 538,650C536,610 546,540 555,500C564,460 566,431 590,410Z" fill="#bf663a" /><path d="M560,680C572,665 610,653 640,650C670,647 715,652 740,660C765,668 793,676 790,700C787,724 747,790 722,805C697,820 665,802 640,792C615,782 583,761 570,742C557,723 548,695 560,680Z" fill="#b45a30" /><path d="M470,425C487,403 521,404 540,408C559,412 577,425 582,450C587,475 579,527 572,560C565,593 557,627 542,650C527,673 500,698 482,700C464,702 439,689 432,662C425,635 434,580 440,540C446,500 453,447 470,425Z" fill="#c26b40" /><ellipse cx="722" cy="472" rx="18" ry="36" fill="#17110f" transform="rotate(4 722 472)"/><ellipse cx="731" cy="455" rx="5" ry="7" fill="#fff"/><ellipse cx="690" cy="398" rx="18" ry="9" fill="#8a3f1e" transform="rotate(-25 690 398)"/><path d="M1098,402C1103,388 1133,379 1150,382C1167,385 1190,405 1200,420C1210,435 1214,456 1212,470C1210,484 1199,498 1190,505C1181,512 1172,516 1160,510C1148,504 1130,486 1120,468C1110,450 1093,416 1098,402Z" fill="#2c2c2f" /><path d="M1140,400C1142,396 1171,407 1180,415C1189,423 1198,446 1195,450C1192,454 1174,448 1165,440C1156,432 1138,404 1140,400Z" fill="#77777a" /><path d="M1058,630Q1100,660 1152,625" fill="none" stroke="#a5705c" stroke-width="5" stroke-linecap="round" stroke-linejoin="round"/><path d="M512,858Q590,990 700,1040Q780,1075 866,1075" fill="none" stroke="#962b30" stroke-width="58" stroke-linecap="butt" stroke-linejoin="round"/><path d="M800,1100C808,1086 824,1082 830,1095C836,1108 838,1163 835,1180C832,1197 819,1195 810,1195C801,1195 782,1196 780,1180C778,1164 792,1114 800,1100Z" fill="#e39a33" /></g>
</g>
<circle cx="942.4" cy="300.5" r="129.7" fill="none" stroke="#3a5f9a" stroke-width="1.6"/>
<circle cx="1196.4" cy="559.8" r="129.8" fill="#f7cfd4"/>
<g clip-path="url(#cc3)">
<g transform="translate(1045,410) scale(.2)"><path d="M345,300C350,270 366,237 380,220C394,203 420,187 432,200C444,213 446,267 452,300C458,333 474,379 465,400C456,421 419,425 400,425C381,425 361,421 352,400C343,379 340,330 345,300Z" fill="#bf663a" /><path d="M340,400C354,348 395,383 420,390C445,397 476,397 490,440C504,483 499,573 505,650C511,727 515,825 525,900C535,975 569,1057 565,1100C561,1143 528,1127 500,1160C472,1193 423,1310 400,1300C377,1290 369,1167 360,1100C351,1033 349,967 345,900C341,833 336,783 335,700C334,617 326,452 340,400Z" fill="#ffffff" /><path d="M345,780C352,770 373,778 380,790C387,802 388,835 385,850C382,865 368,880 360,880C352,880 342,867 340,850C338,833 338,790 345,780Z" fill="#bf663a" /><path d="M350,880C359,847 400,880 420,900C440,920 453,963 470,1000C487,1037 525,1078 520,1120C515,1162 460,1220 440,1250C420,1280 412,1325 400,1300C388,1275 373,1170 365,1100C357,1030 341,913 350,880Z" fill="#f3eaea" /><path d="M235,745C225,716 264,627 280,580C296,533 310,489 330,462C350,435 375,424 400,420C425,416 460,443 480,440C500,437 517,390 522,400C527,410 515,458 512,500C509,542 514,616 502,650C490,684 469,685 442,702C415,719 376,745 342,752C308,759 245,774 235,745Z" fill="#bf663a" /><path d="M1080,380C1087,360 1151,351 1180,358C1209,365 1232,393 1252,420C1272,447 1282,482 1302,520C1322,558 1374,621 1372,645C1370,669 1321,664 1292,662C1263,660 1225,642 1200,632C1175,622 1150,625 1140,600C1130,575 1150,517 1140,480C1130,443 1073,400 1080,380Z" fill="#bf663a" /><path d="M770,305C774,289 825,296 835,320C845,344 847,452 850,500C853,548 856,665 862,700C868,735 890,763 902,782C914,801 942,837 962,852C982,867 1043,891 1062,902C1081,913 1108,916 1112,942C1116,968 1161,1089 1092,1110C1023,1131 629,1136 560,1110C491,1084 535,926 540,900C545,874 582,904 602,900C622,896 680,882 702,872C724,862 766,838 782,822C798,806 827,770 832,742C837,714 826,636 822,600C818,564 808,487 802,450C796,413 766,321 770,305Z" fill="#ffffff" /><path d="M520,400C531,378 569,334 600,322C631,310 745,289 770,305C795,321 796,413 802,450C808,487 818,564 822,600C826,636 837,714 832,742C827,770 798,806 782,822C766,838 724,862 702,872C680,882 622,898 602,902C582,906 550,913 540,900C530,887 525,831 520,800C515,769 501,688 500,650C499,612 508,531 510,500C512,469 509,422 520,400Z" fill="#bf663a" /><path d="M835,320C854,299 969,322 1000,330C1031,338 1062,361 1080,380C1098,399 1131,446 1140,480C1149,514 1154,604 1152,650C1150,696 1133,820 1122,852C1111,884 1082,902 1062,902C1042,902 982,867 962,852C942,837 914,801 902,782C890,763 868,735 862,700C856,665 853,548 850,500C847,452 816,341 835,320Z" fill="#bf663a" /><ellipse cx="735" cy="655" rx="48" ry="24" fill="#8f4524" transform="rotate(-15 735 655)"/><ellipse cx="922" cy="650" rx="48" ry="24" fill="#8f4524" transform="rotate(15 922 650)"/><path d="M655,800Q690,815 725,800" fill="none" stroke="#5a2a1c" stroke-width="6" stroke-linecap="round" stroke-linejoin="round"/><path d="M925,798Q960,812 995,798" fill="none" stroke="#5a2a1c" stroke-width="6" stroke-linecap="round" stroke-linejoin="round"/><path d="M505,715C493,733 466,806 465,850C464,894 483,948 500,980C517,1012 558,1048 565,1045C572,1042 553,992 545,960C537,928 517,887 515,850C513,813 537,762 535,740C533,718 517,697 505,715Z" fill="#a02c3c" /><path d="M510,1060C517,1045 548,1038 560,1050C572,1062 587,1115 580,1130C573,1145 532,1152 520,1140C508,1128 503,1075 510,1060Z" fill="#e8dca0" /><path d="M470,1165L1235,1150L1420,1320L1420,1500L300,1500L380,1300Z" fill="#f4622e" /><path d="M470,1165L540,1300L480,1500L300,1500L380,1300Z" fill="#e4541f" /><ellipse cx="640" cy="1138" rx="45" ry="22" fill="#8c4a2b"/><ellipse cx="700" cy="1123" rx="35" ry="22" fill="#8c4a2b"/><ellipse cx="740" cy="1143" rx="30" ry="18" fill="#8c4a2b"/><ellipse cx="1000" cy="1138" rx="40" ry="22" fill="#8c4a2b"/><ellipse cx="1050" cy="1123" rx="35" ry="20" fill="#8c4a2b"/><ellipse cx="1120" cy="1148" rx="40" ry="20" fill="#8c4a2b"/><ellipse cx="1180" cy="1163" rx="35" ry="16" fill="#8c4a2b"/><ellipse cx="590" cy="1158" rx="35" ry="16" fill="#8c4a2b"/><ellipse cx="960" cy="1153" rx="30" ry="15" fill="#8c4a2b"/><rect x="782" y="1075" width="135" height="68" rx="22" fill="#383b40"/><ellipse cx="850" cy="1098" rx="40" ry="12" fill="#6f7378"/></g>
</g>
<circle cx="1196.4" cy="559.8" r="129.8" fill="none" stroke="#3d67a5" stroke-width="1.6"/>
<circle cx="1292.7" cy="915.3" r="129.7" fill="#d5e7df"/>
<g clip-path="url(#cc4)">
<g transform="translate(1140,770) scale(.2)"><path d="M600,1185L820,1105L830,1180L640,1255Z" fill="#ece1e1" /><path d="M600,640C646,617 779,560 830,560C881,560 883,610 905,640C927,670 930,716 962,740C994,764 1052,777 1100,782C1148,787 1197,776 1250,772C1303,768 1387,717 1420,755C1453,793 1457,941 1450,1000C1443,1059 1422,1076 1380,1110C1338,1144 1262,1181 1200,1205C1138,1229 1057,1222 1005,1255C953,1288 942,1376 890,1400C838,1424 712,1425 690,1400C668,1375 742,1292 760,1250C778,1208 800,1181 800,1150C800,1119 779,1090 762,1062C745,1034 727,1005 700,982C673,959 632,935 602,922C572,909 550,897 522,902C494,907 439,954 432,952C425,950 462,907 480,892C498,877 531,877 542,862C553,847 543,827 545,800C547,773 543,727 552,700C561,673 554,663 600,640Z" fill="#ffffff" /><path d="M300,480C342,458 437,410 480,430C523,450 538,565 560,600C582,635 610,625 610,640C610,655 585,677 562,692C539,707 502,724 472,732C442,740 411,747 382,742C353,737 322,717 300,702C278,687 262,676 250,652C238,628 222,589 230,560C238,531 258,502 300,480Z" fill="#ffffff" /><path d="M560,685C570,681 577,728 600,738C623,748 675,738 700,742C725,746 745,749 752,762C759,775 754,805 742,822C730,839 705,855 682,862C659,869 625,865 602,862C579,859 556,859 545,842C534,825 536,788 538,762C540,736 550,689 560,685Z" fill="#e14f48" /><path d="M545,800C561,798 607,829 640,830C673,831 725,806 742,805C759,804 752,812 742,822C732,832 705,855 682,862C659,869 625,865 602,862C579,859 554,852 545,842C536,832 529,802 545,800Z" fill="#c4363c" /><path d="M560,292C558,270 570,229 590,212C610,195 653,193 680,190C707,187 750,185 752,195C754,205 709,232 692,252C675,272 667,297 652,312C637,327 617,345 602,342C587,339 562,314 560,292Z" fill="#bf663a" /><path d="M700,300C700,279 737,270 762,275C787,280 822,314 852,332C882,350 935,364 942,382C949,400 912,430 892,442C872,454 844,459 822,452C800,445 780,425 760,400C740,375 700,321 700,300Z" fill="#bf663a" /><path d="M470,502C475,472 498,410 520,382C542,354 570,347 600,332C630,317 673,300 700,292C727,284 745,275 762,282C779,289 790,304 802,332C814,360 829,414 832,452C835,490 835,534 822,562C809,590 780,609 752,622C724,635 684,645 652,642C620,639 589,615 562,602C535,589 507,579 492,562C477,545 465,532 470,502Z" fill="#bf663a" /><path d="M710,420Q760,450 800,410" fill="none" stroke="#8a3f1e" stroke-width="5" stroke-linecap="round" stroke-linejoin="round"/><path d="M560,520Q590,480 625,525" fill="none" stroke="#5a2a1c" stroke-width="9" stroke-linecap="round" stroke-linejoin="round"/><ellipse cx="595" cy="405" rx="20" ry="12" fill="#8a3f1e" transform="rotate(20 595 405)"/><ellipse cx="512" cy="382" rx="9" ry="9" fill="#17110f"/><path d="M212,492C226,476 284,474 300,485C316,496 309,534 306,560C303,586 292,627 282,642C272,657 257,662 246,652C235,642 220,607 214,580C208,553 198,508 212,492Z" fill="#2f2f32" /><path d="M235,500C242,489 286,488 295,495C304,502 298,529 290,540C282,551 259,567 250,560C241,553 228,511 235,500Z" fill="#6e6e72" /><path d="M925,688C935,681 966,710 972,742C978,774 974,835 962,882C950,929 925,985 902,1022C879,1059 846,1098 822,1105C798,1112 757,1079 760,1062C763,1045 820,1029 842,1002C864,975 880,939 892,902C904,865 906,818 912,782C918,746 915,695 925,688Z" fill="#962b30" /><path d="M895,1035L985,1050L955,1120Z" fill="#e39a33" /><path d="M1010,850C1029,828 1082,828 1120,825C1158,822 1218,812 1240,835C1262,858 1251,919 1252,960C1253,1001 1265,1060 1245,1082C1225,1104 1166,1088 1130,1090C1094,1092 1051,1114 1030,1092C1009,1070 1008,1000 1005,960C1002,920 991,872 1010,850Z" fill="#bf663a" /><ellipse cx="1328" cy="888" rx="46" ry="66" fill="#bf663a" transform="rotate(-8 1328 888)"/></g>
</g>
<circle cx="1292.7" cy="915.3" r="129.7" fill="none" stroke="#2e6a9e" stroke-width="1.6"/>
<circle cx="1219.8" cy="1279.3" r="129.7" fill="#e6d1f0"/>
<g clip-path="url(#cc5)">
<g transform="translate(1070,1130) scale(.2)"><path d="M290,402C288,392 308,357 330,340C352,323 391,304 420,300C449,296 475,313 502,318C529,323 575,316 582,330C589,344 559,392 542,402C525,412 505,396 482,392C459,388 425,378 402,380C379,382 361,398 342,402C323,406 292,412 290,402Z" fill="#bf663a" /><path d="M350,400C358,390 410,370 430,370C450,370 468,388 470,400C472,412 455,435 440,440C425,445 395,437 380,430C365,423 342,410 350,400Z" fill="#e9d6a0" /><path d="M800,760C840,742 941,725 1000,722C1059,719 1105,725 1152,742C1199,759 1241,791 1282,822C1323,853 1367,867 1400,930C1433,993 1497,1118 1480,1200C1463,1282 1425,1383 1300,1420C1175,1457 830,1457 730,1420C630,1383 708,1262 700,1200C692,1138 683,1092 682,1050C681,1008 679,987 692,950C705,913 744,862 762,830C780,798 760,778 800,760Z" fill="#ffffff" /><path d="M400,520C437,500 490,503 520,480C550,457 563,405 580,380C597,355 608,293 622,330C636,367 632,535 662,600C692,665 785,690 802,722C819,754 787,770 762,792C737,814 685,834 652,852C619,870 595,899 562,902C529,905 490,889 452,872C414,855 366,830 332,802C298,774 255,736 250,702C245,668 275,630 300,600C325,570 363,540 400,520Z" fill="#ffffff" /><path d="M250,702C261,692 348,730 400,740C452,750 510,755 560,760C610,765 666,765 700,770C734,775 770,778 762,792C754,806 685,834 652,852C619,870 595,899 562,902C529,905 490,889 452,872C414,855 366,830 332,802C298,774 239,712 250,702Z" fill="#eee5ec" /><path d="M620,830C635,812 683,785 700,790C717,795 722,832 720,860C718,888 706,943 690,960C674,977 638,970 625,960C612,950 611,922 610,900C609,878 605,848 620,830Z" fill="#cdc8d0" /><path d="M550,895L610,890" fill="none" stroke="#b98a9a" stroke-width="6" stroke-linecap="round" stroke-linejoin="round"/><path d="M590,432C596,397 605,351 640,332C675,313 748,318 800,320C852,322 910,328 952,342C994,356 1027,375 1052,402C1077,429 1089,469 1102,502C1115,535 1132,565 1132,602C1132,639 1140,705 1102,722C1064,739 939,699 902,702C865,705 903,744 880,742C857,740 800,712 762,692C724,672 679,647 652,622C625,597 612,574 602,542C592,510 584,467 590,432Z" fill="#bf663a" /><path d="M920,342C939,327 975,322 1002,332C1029,342 1057,377 1082,402C1107,427 1135,459 1152,482C1169,505 1194,527 1182,542C1170,557 1095,542 1082,572C1069,602 1122,701 1102,722C1082,743 994,727 960,700C926,673 912,607 900,560C888,513 887,456 890,420C893,384 901,357 920,342Z" fill="#c76f42" /><path d="M350,492C353,475 395,435 420,422C445,409 482,409 502,412C522,415 539,427 542,442C545,457 534,487 522,502C510,517 492,529 472,532C452,535 422,529 402,522C382,515 347,509 350,492Z" fill="#bf663a" /><ellipse cx="672" cy="500" rx="25" ry="46" fill="#141012" transform="rotate(5 672 500)"/><ellipse cx="700" cy="455" rx="8" ry="10" fill="#fff"/><ellipse cx="462" cy="470" rx="22" ry="28" fill="#2a1510" transform="rotate(10 462 470)"/><ellipse cx="490" cy="440" rx="6" ry="7" fill="#fff"/><path d="M620,420Q680,400 730,440" fill="none" stroke="#8a3f1e" stroke-width="10" stroke-linecap="round" stroke-linejoin="round"/><path d="M440,410Q480,415 515,445" fill="none" stroke="#8a3f1e" stroke-width="9" stroke-linecap="round" stroke-linejoin="round"/><path d="M228,560C235,538 251,517 270,510C289,503 316,512 340,520C364,528 402,540 412,560C422,580 414,615 402,640C390,665 364,703 342,712C320,721 291,704 272,692C253,680 237,662 230,640C223,618 221,582 228,560Z" fill="#3a3a3d" /><path d="M300,530C308,524 376,550 390,565C404,580 393,614 385,620C377,626 354,615 340,600C326,585 292,536 300,530Z" fill="#7c7c80" /><path d="M700,882C713,857 759,787 770,790C781,793 773,870 765,900C757,930 734,965 722,972C710,979 694,957 690,942C686,927 687,907 700,882Z" fill="#bf663a" /><ellipse cx="1005" cy="850" rx="22" ry="16" fill="#c98a8a"/><path d="M930,1335L1010,1330" fill="none" stroke="#e4dbe6" stroke-width="8" stroke-linecap="round" stroke-linejoin="round"/></g>
</g>
<circle cx="1219.8" cy="1279.3" r="129.7" fill="none" stroke="#2e62a6" stroke-width="1.8"/>
<text x="46.5" y="422" font-size="39.7">Interactive&amp;Training</text>
<text x="360" y="369" font-size="39.6">Strengthen Dog's Skills</text>
<text x="729.5" y="469.5" font-size="35.9">Reducing Boredom&amp;</text>
<text x="747" y="509.5" font-size="36.0">Negative Behavior</text>
<text x="1003" y="736.5" font-size="39.85">A Bowl for Slow Feeding</text>
<text x="1121" y="1093" font-size="40">Mental Stimulation</text>
<g clip-path="url(#obClip)"><text x="1036.5" y="1459" font-size="39.3">Prevent Obesity</text></g>
</svg></div></body></html>
